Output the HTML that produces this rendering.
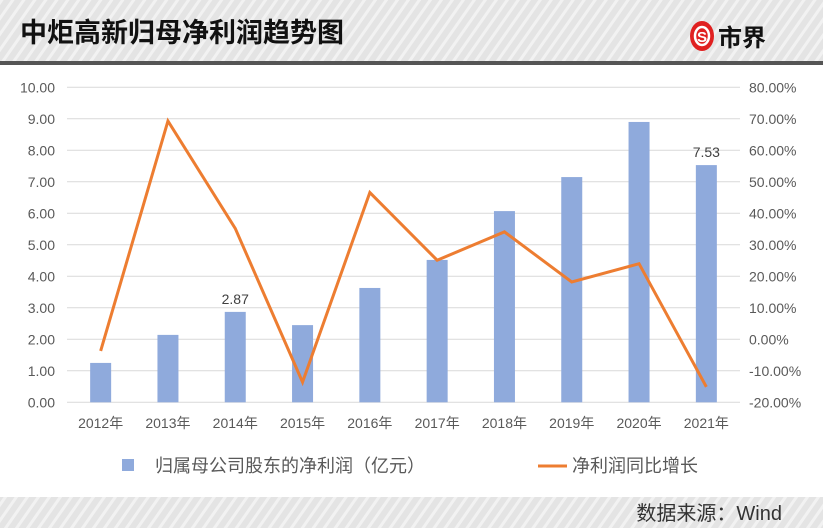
<!DOCTYPE html>
<html><head><meta charset="utf-8"><style>
html,body{margin:0;padding:0;background:#fff}
body{width:823px;height:528px;overflow:hidden;position:relative;font-family:"Liberation Sans","Noto Sans CJK SC",sans-serif}
</style></head><body>
<svg id="chart" width="823" height="528" xmlns="http://www.w3.org/2000/svg" style="position:absolute;left:0;top:0">
<defs>
<pattern id="stripes" width="9" height="9" patternUnits="userSpaceOnUse" patternTransform="rotate(35)">
<rect width="9" height="9" fill="#e4e4e4"/><rect width="3" height="9" fill="#f2f2f2"/>
</pattern>
</defs>
<rect x="0" y="0" width="823" height="61" fill="url(#stripes)"/>
<rect x="0" y="61" width="823" height="4" fill="#555"/>
<text x="20" y="42" font-size="27" font-weight="bold" fill="#111" font-family="'Liberation Sans','Noto Sans CJK SC',sans-serif">中炬高新归母净利润趋势图</text>
<g>
<ellipse cx="702" cy="36" rx="12" ry="15" fill="#e02020"/>
<ellipse cx="702" cy="36" rx="7" ry="9" fill="none" stroke="#fff" stroke-width="2.5"/>
<text x="702" y="42" font-size="15" font-weight="bold" fill="#fff" text-anchor="middle">S</text>
<text x="718" y="46" font-size="24" font-weight="bold" fill="#111" font-family="'Noto Sans CJK SC',sans-serif">市界</text>
</g>
<rect x="0" y="497" width="823" height="31" fill="url(#stripes)"/>
<text x="782" y="520" font-size="20" fill="#333" text-anchor="end" font-family="'Liberation Sans','Noto Sans CJK SC',sans-serif">数据来源：Wind</text>
<g id="grid"></g><g id="bars"></g><g id="line"></g><g id="axes"></g>
<g>
<rect x="122" y="459" width="12" height="12" fill="#8faadc"/>
<text x="155" y="472" font-size="18" fill="#595959">归属母公司股东的净利润（亿元）</text>
<line x1="538" y1="466" x2="567" y2="466" stroke="#ed7d31" stroke-width="3"/>
<text x="572" y="472" font-size="18" fill="#595959">净利润同比增长</text>
</g>
</svg>
<script>
const categories=["2012年","2013年","2014年","2015年","2016年","2017年","2018年","2019年","2020年","2021年"];
const profit=[1.25,2.14,2.87,2.45,3.63,4.52,6.07,7.15,8.90,7.53];
const growth=[-3.7,69.3,35.2,-13.6,46.6,25.1,34.1,18.2,24.0,-15.1];
const leftTicks=[0,1,2,3,4,5,6,7,8,9,10];
const rightTicks=[-20,-10,0,10,20,30,40,50,60,70,80];
const labeled=[2,9];
const NS="http://www.w3.org/2000/svg";
const X0=67,X1=740,Y0=402.3,Y1=87.3;
const band=(X1-X0)/categories.length;
const xc=i=>X0+band*(i+0.5);
const yL=v=>Y0-(v/10)*(Y0-Y1);
const yR=v=>Y0-((v+20)/100)*(Y0-Y1);
function mk(tag,attrs,parent,txt){const e=document.createElementNS(NS,tag);for(const k in attrs)e.setAttribute(k,attrs[k]);if(txt!==undefined)e.textContent=txt;document.getElementById(parent).appendChild(e);return e;}
leftTicks.forEach((t,i)=>{
 const g=mk('line',{x1:X0,x2:X1,y1:yL(t),y2:yL(t),stroke:'#d9d9d9','stroke-width':1},'grid');
 
 
 const l=mk('text',{x:55,y:yL(t)+5,'font-size':14,fill:'#595959','text-anchor':'end'},'axes',t.toFixed(2));
 
 
});
rightTicks.forEach(t=>{
 const l=mk('text',{x:749,y:yR(t)+5,'font-size':14,fill:'#595959'},'axes',t.toFixed(2)+'%');
 
 
});
categories.forEach((c,i)=>{
 const l=mk('text',{x:xc(i),y:428,'font-size':14,fill:'#595959','text-anchor':'middle'},'axes',c);
 
 
 const b=mk('rect',{x:xc(i)-10.5,y:yL(profit[i]),width:21,height:Y0-yL(profit[i]),fill:'#8faadc'},'bars');
 
 
 if(labeled.includes(i)){
  const v=mk('text',{x:xc(i),y:yL(profit[i])-8,'font-size':14,fill:'#404040','text-anchor':'middle'},'bars',profit[i].toFixed(2));
  
  
 }
});
const pts=growth.map((g,i)=>xc(i)+','+yR(g)).join(' ');
const pl=mk('polyline',{points:pts,fill:'none',stroke:'#ed7d31','stroke-width':3,'stroke-linejoin':'miter'},'line');


</script>
</body></html>
